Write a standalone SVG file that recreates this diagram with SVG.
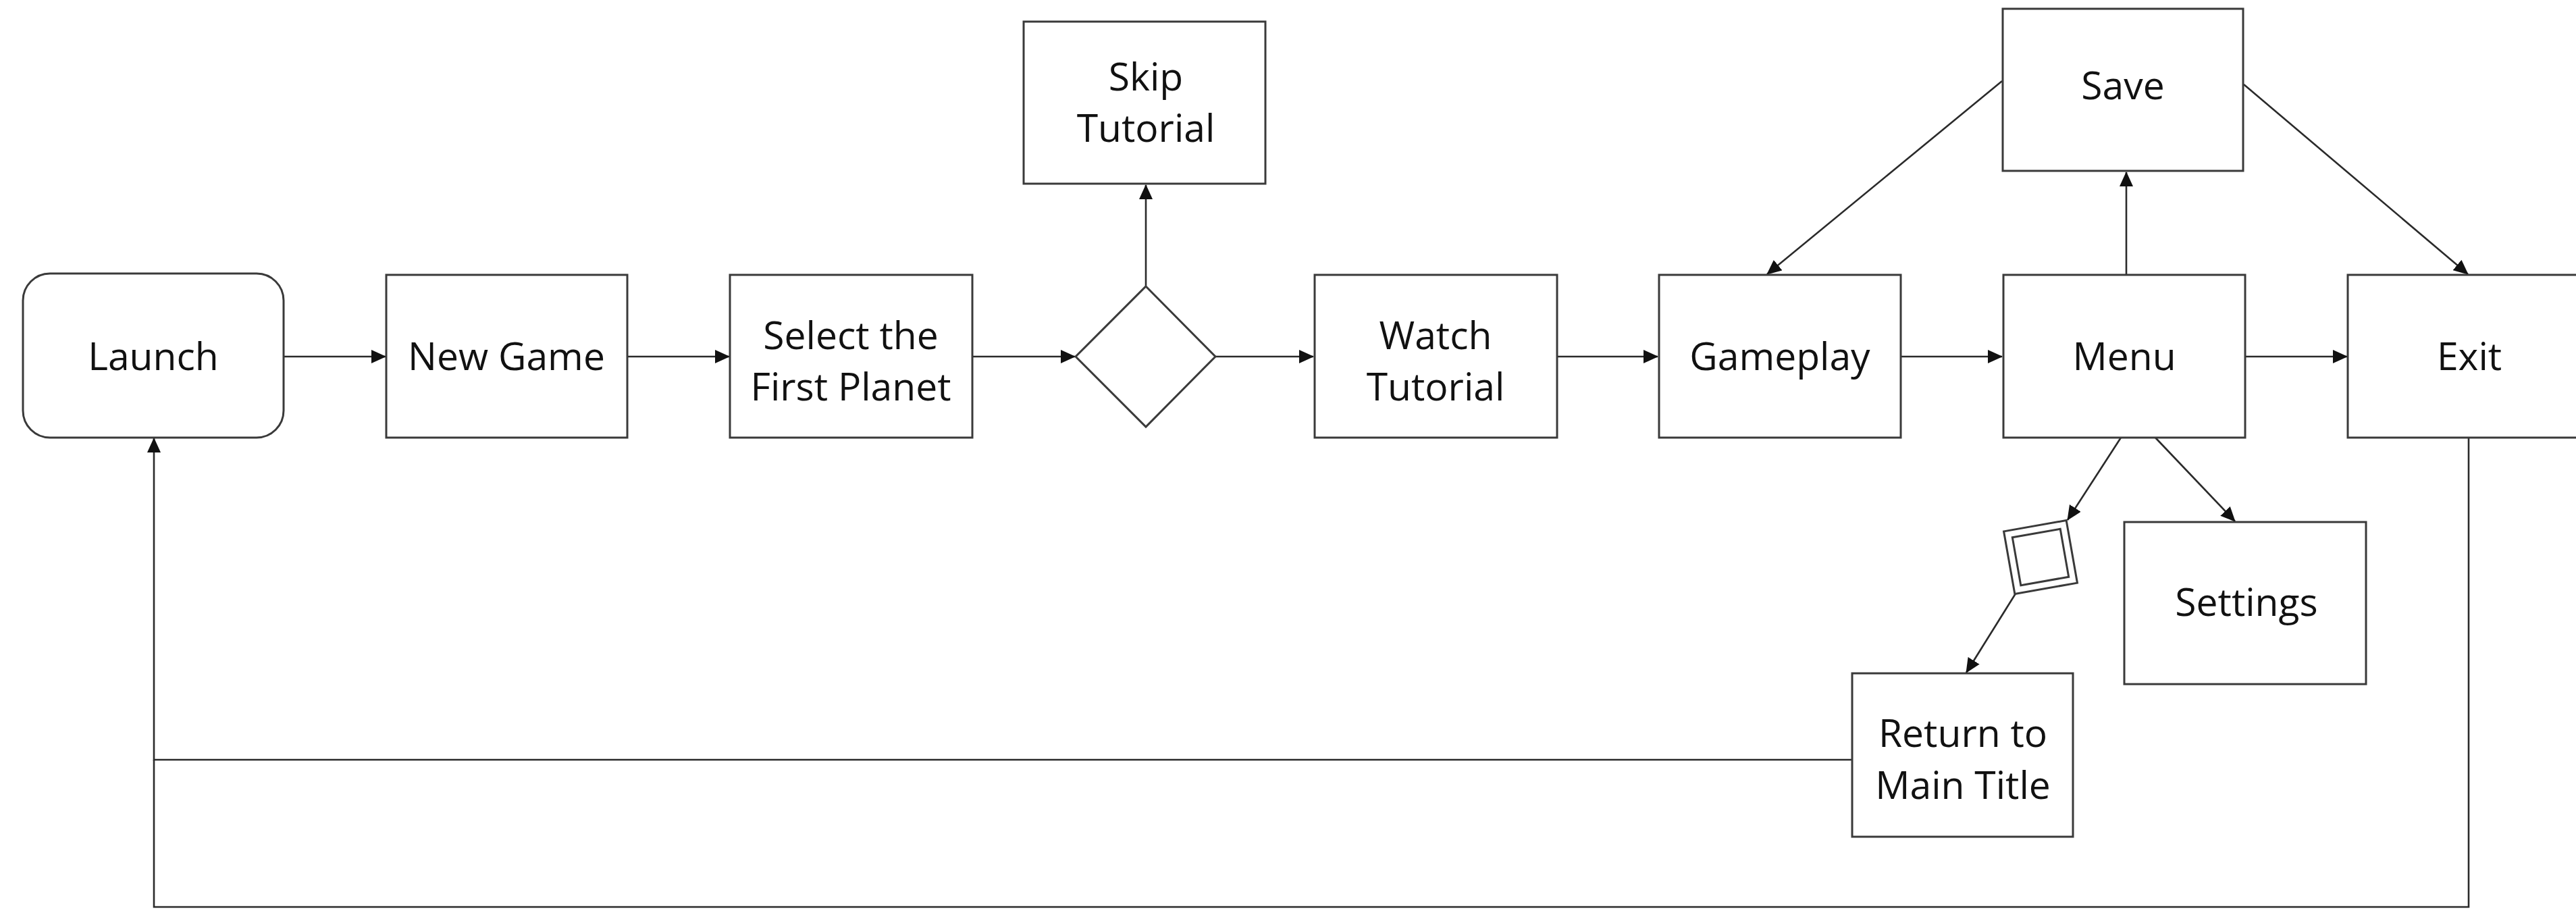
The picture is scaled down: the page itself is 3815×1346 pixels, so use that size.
<svg xmlns="http://www.w3.org/2000/svg" width="3815" height="1346" viewBox="0 0 3815 1346">
<style>
.box{fill:#fff;stroke:#3a3a3a;stroke-width:3}
.lbl{font-family:"Open Sans","Noto Sans","Liberation Sans",sans-serif;font-size:57px;fill:#111;text-anchor:middle}
.con{fill:none;stroke:#2a2a2a;stroke-width:2.6}
</style>
<defs>
<marker id="ah" markerUnits="userSpaceOnUse" markerWidth="22" markerHeight="20" refX="21" refY="10" orient="auto">
<path d="M0,0 L22,10 L0,20 z" fill="#111"/>
</marker>
</defs>
<rect width="3815" height="1346" fill="#fff"/>
<g id="connectors">
<line class="con" x1="420" y1="528" x2="571" y2="528" marker-end="url(#ah)"/>
<line class="con" x1="929" y1="528" x2="1080" y2="528" marker-end="url(#ah)"/>
<line class="con" x1="1440" y1="528" x2="1592" y2="528" marker-end="url(#ah)"/>
<line class="con" x1="1800" y1="528" x2="1945" y2="528" marker-end="url(#ah)"/>
<line class="con" x1="1697" y1="423" x2="1697" y2="274" marker-end="url(#ah)"/>
<line class="con" x1="2307" y1="528" x2="2455" y2="528" marker-end="url(#ah)"/>
<line class="con" x1="2816" y1="528" x2="2965" y2="528" marker-end="url(#ah)"/>
<line class="con" x1="3326" y1="528" x2="3476" y2="528" marker-end="url(#ah)"/>
<line class="con" x1="3149" y1="407" x2="3149" y2="255" marker-end="url(#ah)"/>
<line class="con" x1="2965" y1="120" x2="2617" y2="406" marker-end="url(#ah)"/>
<line class="con" x1="3323" y1="125" x2="3655" y2="406" marker-end="url(#ah)"/>
<line class="con" x1="3141" y1="648" x2="3062" y2="770" marker-end="url(#ah)"/>
<line class="con" x1="3192" y1="648" x2="3310" y2="772" marker-end="url(#ah)"/>
<line class="con" x1="2985" y1="879" x2="2912" y2="996" marker-end="url(#ah)"/>
<polyline class="con" points="2743,1125 228,1125 228,649" marker-end="url(#ah)"/>
<polyline class="con" points="3656,648 3656,1343 228,1343 228,1125"/>
</g>
<g id="launch">
<rect class="box" x="34" y="405" width="386" height="243" rx="40" ry="40"/>
<text class="lbl" x="227" y="548">Launch</text>
</g>
<g id="new-game">
<rect class="box" x="572" y="407" width="357" height="241"/>
<text class="lbl" x="750" y="548">New Game</text>
</g>
<g id="select-planet">
<rect class="box" x="1081" y="407" width="359" height="241"/>
<text class="lbl" x="1260" y="517">Select the</text>
<text class="lbl" x="1260" y="593">First Planet</text>
</g>
<g id="decision">
<polygon class="box" points="1697,424 1800,528 1697,632 1593,528"/>
</g>
<g id="skip-tutorial">
<rect class="box" x="1516" y="32" width="358" height="240"/>
<text class="lbl" x="1697" y="134">Skip</text>
<text class="lbl" x="1697" y="210">Tutorial</text>
</g>
<g id="watch-tutorial">
<rect class="box" x="1947" y="407" width="359" height="241"/>
<text class="lbl" x="2126" y="517">Watch</text>
<text class="lbl" x="2126" y="593">Tutorial</text>
</g>
<g id="gameplay">
<rect class="box" x="2457" y="407" width="358" height="241"/>
<text class="lbl" x="2636" y="548">Gameplay</text>
</g>
<g id="menu">
<rect class="box" x="2967" y="407" width="358" height="241"/>
<text class="lbl" x="3146" y="548">Menu</text>
</g>
<g id="exit">
<rect class="box" x="3477" y="407" width="358" height="241"/>
<text class="lbl" x="3657" y="548">Exit</text>
</g>
<g id="save">
<rect class="box" x="2966" y="13" width="356" height="240"/>
<text class="lbl" x="3144" y="147">Save</text>
</g>
<g id="settings">
<rect class="box" x="3146" y="773" width="358" height="240"/>
<text class="lbl" x="3327" y="912">Settings</text>
</g>
<g id="confirm" transform="translate(3022,825) rotate(-10)">
<rect class="box" x="-47" y="-47" width="94" height="94"/>
<rect class="box" x="-36" y="-36" width="72" height="72"/>
</g>
<g id="return-main-title">
<rect class="box" x="2743" y="997" width="327" height="242"/>
<text class="lbl" x="2907" y="1106">Return to</text>
<text class="lbl" x="2907" y="1183">Main Title</text>
</g>
</svg>
